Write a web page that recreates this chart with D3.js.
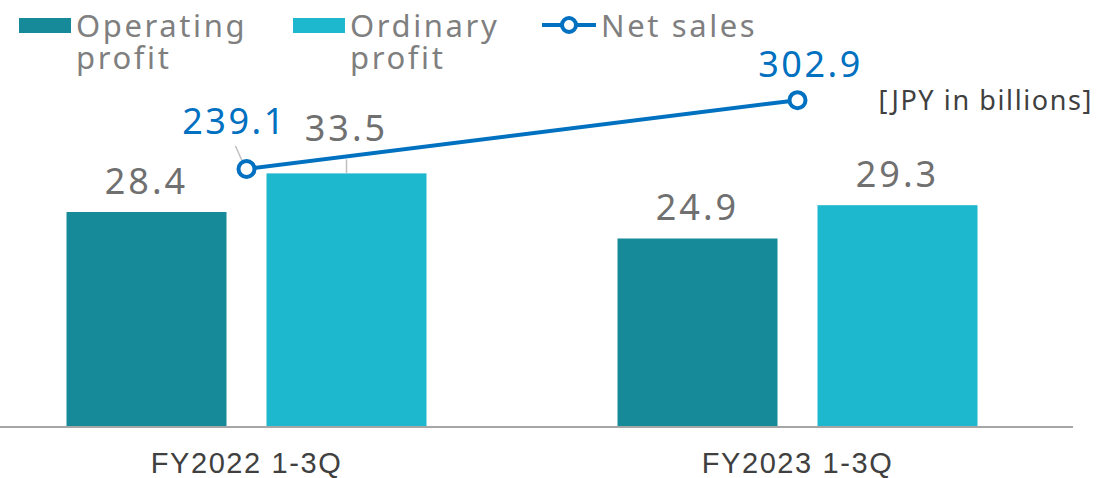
<!DOCTYPE html>
<html>
<head>
<meta charset="utf-8">
<script src="https://cdn.jsdelivr.net/npm/d3@7"></script>
<style>
  body { margin: 0; background: #fff; }
  svg { display: block; font-family: "Noto Sans", "Open Sans", sans-serif; }
</style>
</head>
<body>
<div id="chart"></div>
<script>
// data
var categories     = ['FY2022 1-3Q', 'FY2023 1-3Q'];
var seriesNames    = ['Operating profit', 'Ordinary profit'];
var operatingProfit = [28.4, 24.9];
var ordinaryProfit  = [33.5, 29.3];
var netSales        = [239.1, 302.9];
var unitLabel       = '[JPY in billions]';

var width  = 1099;
var height = 478;
var baseY  = 427;
var colors = ['#178A9A', '#1EB8CE'];
var lineColor = '#0070C0';

var svg = d3.select('#chart').append('svg')
  .attr('width', width)
  .attr('height', height);

// x scales
var xScale = d3.scaleBand()
  .domain(categories)
  .range([-29, 1073])
  .padding(0);

var xInner = d3.scaleBand()
  .domain(seriesNames)
  .range([0, xScale.bandwidth()])
  .paddingInner(0.2)
  .paddingOuter(0.4775);

// y scales (bars and line share the same baseline)
var yBar = d3.scaleLinear().domain([0, 28.4]).range([baseY, 212]);
var yLine = d3.scaleLinear().domain([0, 239.1]).range([baseY, 169]);

// bars
var barData = [];
categories.forEach(function(c, i) {
  barData.push({ cat: c, s: seriesNames[0], v: operatingProfit[i], k: 0 });
  barData.push({ cat: c, s: seriesNames[1], v: ordinaryProfit[i], k: 1 });
});

svg.append('g').selectAll('rect').data(barData)
  .enter().append('rect')
    .attr('x', function(d) { return xScale(d.cat) + xInner(d.s); })
    .attr('y', function(d) { return yBar(d.v); })
    .attr('width', xInner.bandwidth())
    .attr('height', function(d) { return baseY - yBar(d.v); })
    .attr('fill', function(d) { return colors[d.k]; });

// x axis
var xAxis = d3.axisBottom(xScale).tickSize(0).tickPadding(25);
var gx = svg.append('g')
  .attr('transform', 'translate(0,' + baseY + ')')
  .call(xAxis);
gx.select('.domain').attr('stroke', '#A6A6A6').attr('stroke-width', 2)
  .attr('d', 'M0,0H1073');
gx.selectAll('text')
  .attr('fill', '#404040')
  .style('font-size', '29px')
  .style('font-weight', '500')
  .style('letter-spacing', '1.6px');

// bar labels
var labelOffsets = { 'FY2022 1-3Q|Ordinary profit': 14 };
svg.append('g').selectAll('text').data(barData)
  .enter().append('text')
    .attr('x', function(d) { return xScale(d.cat) + xInner(d.s) + xInner.bandwidth() / 2; })
    .attr('y', function(d) {
      var off = labelOffsets[d.cat + '|' + d.s] || 0;
      return yBar(d.v) - 18 - off;
    })
    .attr('text-anchor', 'middle')
    .attr('fill', '#707070')
    .style('font-size', '36px')
    .style('letter-spacing', '3px')
    .text(function(d) { return d.v.toFixed(1); });

// leader line for shifted bar label
svg.append('line')
  .attr('x1', xScale(categories[0]) + xInner(seriesNames[1]) + xInner.bandwidth() / 2)
  .attr('x2', xScale(categories[0]) + xInner(seriesNames[1]) + xInner.bandwidth() / 2)
  .attr('y1', yBar(ordinaryProfit[0]) - 14)
  .attr('y2', yBar(ordinaryProfit[0]))
  .attr('stroke', '#BFBFBF').attr('stroke-width', 1.5);

// net sales line
var cx = function(d, i) { return xScale(categories[i]) + xScale.bandwidth() / 2; };
var lineGen = d3.line()
  .x(function(d, i) { return cx(d, i); })
  .y(function(d) { return yLine(d); });

// leader line for first net sales label
svg.append('line')
  .attr('x1', cx(null, 0) - 11).attr('y1', yLine(netSales[0]) - 23)
  .attr('x2', cx(null, 0) - 3).attr('y2', yLine(netSales[0]) - 5)
  .attr('stroke', '#BFBFBF').attr('stroke-width', 1.5);

svg.append('path')
  .datum(netSales)
  .attr('d', lineGen)
  .attr('fill', 'none')
  .attr('stroke', lineColor)
  .attr('stroke-width', 4);

svg.append('g').selectAll('circle').data(netSales)
  .enter().append('circle')
    .attr('cx', cx)
    .attr('cy', function(d) { return yLine(d); })
    .attr('r', 8)
    .attr('fill', '#fff')
    .attr('stroke', lineColor)
    .attr('stroke-width', 4);

var lineLabelPos = [{ dx: -12, dy: -35 }, { dx: 13, dy: -23 }];
svg.append('g').selectAll('text').data(netSales)
  .enter().append('text')
    .attr('x', function(d, i) { return cx(d, i) + lineLabelPos[i].dx; })
    .attr('y', function(d, i) { return yLine(d) + lineLabelPos[i].dy; })
    .attr('text-anchor', 'middle')
    .attr('fill', lineColor)
    .style('font-size', '36px')
    .style('letter-spacing', '2.5px')
    .text(function(d) { return d.toFixed(1); });

// unit label
svg.append('text')
  .attr('x', 1093).attr('y', 110)
  .attr('text-anchor', 'end')
  .attr('fill', '#404040')
  .style('font-size', '27px')
  .style('letter-spacing', '1.6px')
  .text(unitLabel);

// legend
var legend = svg.append('g');
var legendX = [19, 293];
seriesNames.forEach(function(name, i) {
  legend.append('rect')
    .attr('x', legendX[i]).attr('y', 18)
    .attr('width', 52).attr('height', 15)
    .attr('fill', colors[i]);
  var words = name.split(' ');
  var t = legend.append('text')
    .attr('fill', '#7F7F7F')
    .style('font-size', '31px')
    .style('letter-spacing', '2.6px');
  t.append('tspan').attr('x', legendX[i] + 57).attr('y', 37).text(words[0]);
  t.append('tspan').attr('x', legendX[i] + 57).attr('y', 69).text(words[1]);
});
legend.append('line')
  .attr('x1', 542).attr('x2', 596).attr('y1', 25).attr('y2', 25)
  .attr('stroke', lineColor).attr('stroke-width', 4);
legend.append('circle')
  .attr('cx', 569).attr('cy', 25).attr('r', 7)
  .attr('fill', '#fff').attr('stroke', lineColor).attr('stroke-width', 4);
legend.append('text')
  .attr('x', 601).attr('y', 37)
  .attr('fill', '#7F7F7F')
  .style('font-size', '31px')
  .style('letter-spacing', '2.6px')
  .text('Net sales');
</script>
</body>
</html>
